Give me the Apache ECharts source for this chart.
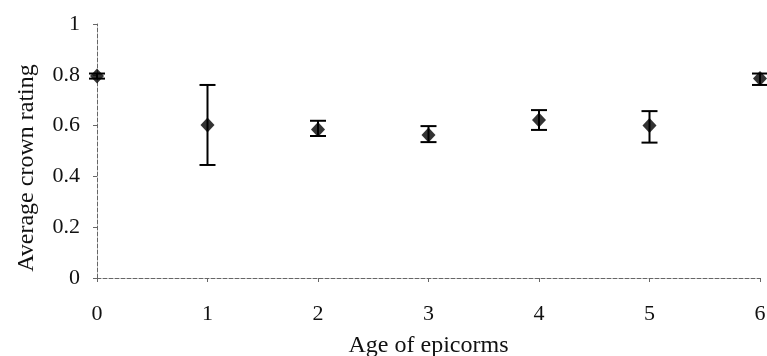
<!DOCTYPE html>
<html>
<head>
<meta charset="utf-8">
<script src="https://cdn.jsdelivr.net/npm/echarts@6/dist/echarts.min.js"></script>
<style>
  html, body { margin: 0; padding: 0; background: #fff; }
  #chart { width: 767px; height: 356px; }
</style>
</head>
<body>
<div id="chart"></div>
<script>
// Age of epicorms (years) and mean crown rating with error bar limits
var ages = [0, 1, 2, 3, 4, 5, 6];
var meanRating = [0.795, 0.602, 0.585, 0.563, 0.622, 0.600, 0.785];
var upperLimit = [0.805, 0.760, 0.619, 0.598, 0.661, 0.657, 0.805];
var lowerLimit = [0.785, 0.445, 0.559, 0.535, 0.583, 0.533, 0.760];
var yTicks = [0, 0.2, 0.4, 0.6, 0.8, 1];

var FONT = '"Liberation Serif", "DejaVu Serif", serif';

var points = ages.map(function (a, i) { return [a, meanRating[i]]; });
var bars = ages.map(function (a, i) { return [a, lowerLimit[i], upperLimit[i]]; });

var chart = echarts.init(document.getElementById('chart'));
chart.setOption({
  animation: false,
  backgroundColor: '#fff',
  grid: { left: 97, right: 7, top: 24, bottom: 78, containLabel: false, outerBoundsMode: 'none' },
  xAxis: {
    type: 'value', min: 0, max: 6, interval: 1,
    name: 'Age of epicorms', nameLocation: 'middle', nameGap: 56,
    nameTextStyle: { fontFamily: FONT, fontSize: 24, color: '#111' },
    axisLine: { lineStyle: { color: '#666', width: 1, type: [4, 2] } },
    axisTick: { show: true, length: 4, lineStyle: { color: '#666' } },
    axisLabel: { fontFamily: FONT, fontSize: 22, color: '#111', margin: 25 },
    splitLine: { show: false }
  },
  yAxis: {
    type: 'value', min: 0, max: 1, interval: 0.2,
    name: 'Average crown rating', nameLocation: 'middle', nameGap: 58,
    nameTextStyle: { fontFamily: FONT, fontSize: 24, color: '#111', padding: [0, 34, 0, 0] },
    axisLine: { show: true, lineStyle: { color: '#666', width: 1, type: [4, 2] } },
    axisTick: { show: true, length: 4, lineStyle: { color: '#666' } },
    axisLabel: {
      fontFamily: FONT, fontSize: 22, color: '#111', margin: 17,
      formatter: function (v) {
        var t = yTicks.find(function (y) { return Math.abs(y - v) < 1e-9; });
        return t === undefined ? '' : String(t);
      }
    },
    splitLine: { show: false }
  },
  series: [
    {
      type: 'custom',
      clip: false,
      data: bars,
      renderItem: function (params, api) {
        var lo = api.coord([api.value(0), api.value(1)]);
        var hi = api.coord([api.value(0), api.value(2)]);
        var hw = 8;
        var style = { stroke: '#000', lineWidth: 2 };
        return {
          type: 'group',
          children: [
            { type: 'line', shape: { x1: lo[0], y1: lo[1], x2: hi[0], y2: hi[1] }, style: style },
            { type: 'line', shape: { x1: hi[0] - hw, y1: hi[1], x2: hi[0] + hw, y2: hi[1] }, style: style },
            { type: 'line', shape: { x1: lo[0] - hw, y1: lo[1], x2: lo[0] + hw, y2: lo[1] }, style: style }
          ]
        };
      },
      z: 2
    },
    {
      type: 'scatter',
      clip: false,
      data: points,
      symbol: 'diamond',
      symbolSize: [14, 15],
      itemStyle: { color: '#000' },
      z: 3
    }
  ]
});
</script>
</body>
</html>
